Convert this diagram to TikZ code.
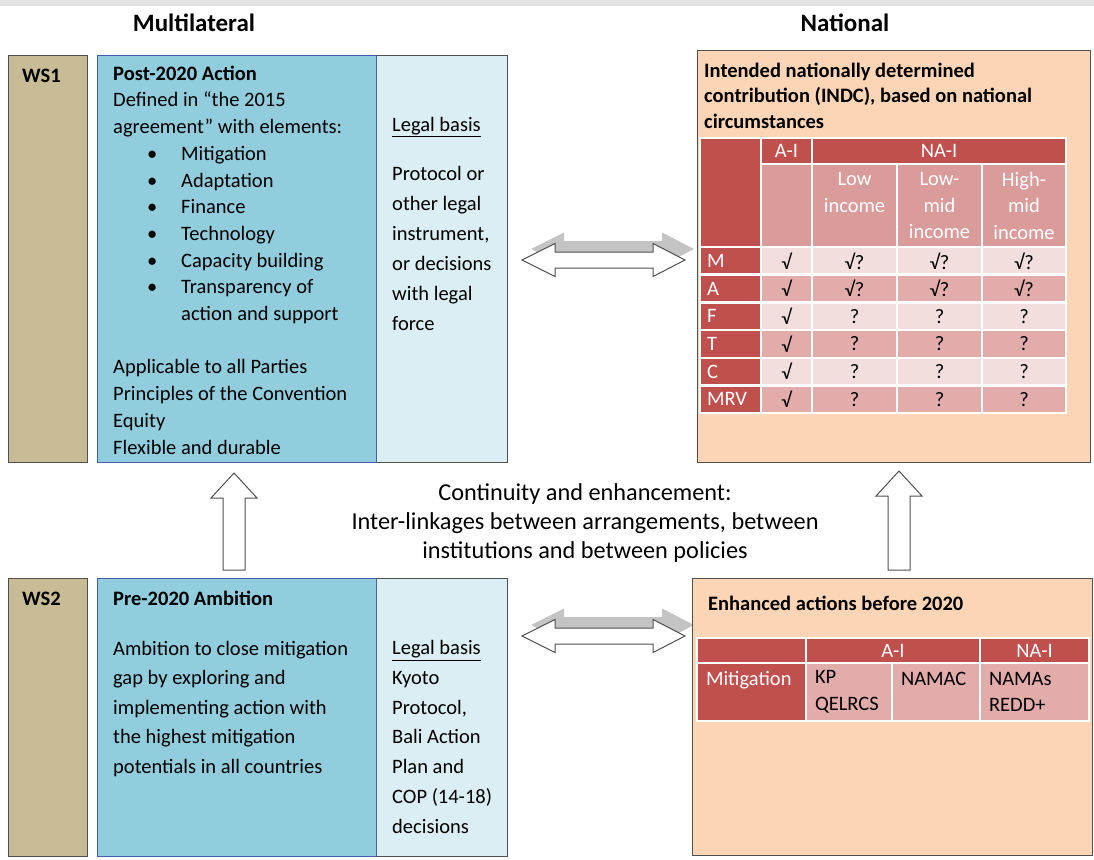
\documentclass[tikz,border=0pt]{standalone}
\usepackage{fontspec}
\setmainfont{Carlito}
\usetikzlibrary{positioning}

\definecolor{wsfill}{RGB}{199,188,150}
\definecolor{bluefill}{RGB}{146,205,221}
\definecolor{blueline}{RGB}{68,96,172}
\definecolor{legalfill}{RGB}{219,238,243}
\definecolor{peach}{RGB}{251,213,181}
\definecolor{boxline}{RGB}{80,80,80}
\definecolor{dred}{RGB}{192,80,77}
\definecolor{subpink}{RGB}{218,156,154}
\definecolor{rowdark}{RGB}{226,172,171}
\definecolor{rowlight}{RGB}{242,222,221}
\definecolor{shadowgray}{RGB}{196,196,196}

\newcommand{\blt}{\makebox[68pt][l]{\hspace*{34pt}\textbullet}}
\newcommand{\dblarrow}{(522,0) -- (555,-16.5) -- (555,-8) -- (653,-8) -- (653,-16.5) -- (685,0) -- (653,16.5) -- (653,8) -- (555,8) -- (555,16.5) -- cycle}

\begin{document}
\begin{tikzpicture}[x=1pt,y=-1pt,
  box/.style={draw=boxline, line width=1.2pt, anchor=north west, inner sep=0pt},
  % multi-line texts are placed by the baseline of their last line
  txt/.style={anchor=base west, inner sep=0pt, align=left, font=\fontsize{20.5}{26.7}\selectfont},
  boldtxt/.style={txt, font=\fontsize{20.5}{25.5}\selectfont\bfseries},
  colhead/.style={anchor=base, inner sep=0pt, font=\fontsize{25}{30}\selectfont\bfseries},
  cell/.style={draw=white, line width=2.5pt, inner sep=0pt, align=center, font=\fontsize{20.5}{26.5}\selectfont},
  hcell/.style={cell, fill=dred, text=white, minimum height=26pt},
  subcell/.style={cell, fill=subpink, text=white, minimum height=83pt},
  rowcell/.style={cell, minimum height=27.7pt},
  lab/.style={rowcell, fill=dred, text=white, align=left, text width=47pt, inner xsep=7pt},
  blockarrow/.style={draw=boxline, fill=white, line width=1pt, line join=miter}
  ]
  \useasboundingbox (0,0) rectangle (1094,859);
  \fill[gray!22] (0,0) rectangle (1094,6);

  % column headings
  \node[colhead] (multi) at (194,32) {Multilateral};
  \node[colhead] (natl) at (845,32) {National};

  % WS1
  \node[box, fill=wsfill, minimum width=79pt, minimum height=407pt] (ws1) at (8,55) {};
  \node[box, fill=legalfill, minimum width=131pt, minimum height=407pt] (legal1) at (376,55) {};
  \node[box, fill=bluefill, draw=blueline, minimum width=279pt, minimum height=407pt] (post) at (97,55) {};
  \node[boldtxt] (ws1lbl) at (22,82) {WS1};
  \node[txt] (posttxt) at (113,454) {\textbf{Post-2020 Action}\\
    Defined in “the 2015\\
    agreement” with elements:\\
    \blt Mitigation\\
    \blt Adaptation\\
    \blt Finance\\
    \blt Technology\\
    \blt Capacity building\\
    \blt Transparency of\\
    \hspace*{68pt}action and support\\[26.7pt]
    Applicable to all Parties\\
    Principles of the Convention\\
    Equity\\
    Flexible and durable};
  \node[txt] (legal1hd) at (392,131) {\underline{Legal basis}};
  \node[txt, font=\fontsize{20.5}{30}\selectfont] (legal1txt) at (392,330)
    {Protocol or\\other legal\\instrument,\\or decisions\\with legal\\force};

  % INDC
  \node[box, fill=peach, minimum width=393pt, minimum height=412pt] (indc) at (697,50) {};
  \node[boldtxt] (indctxt) at (704,128)
    {Intended nationally determined\\contribution (INDC), based on national\\circumstances};
  \node[cell, fill=dred, minimum width=61pt, minimum height=109pt] (corner) at (730.5,192.5) {};
  \node[hcell, minimum width=51pt] (hai) at (786.5,151) {A-I};
  \node[hcell, minimum width=254pt] (hnai) at (939,151) {NA-I};
  \node[subcell, minimum width=51pt] (sai) at (786.5,205.5) {};
  \node[subcell, minimum width=85pt] (slow) at (854.5,205.5) {Low\\income\\\mbox{}};
  \node[subcell, minimum width=85pt] (slowmid) at (939.5,205.5) {Low-\\mid\\income};
  \node[subcell, minimum width=84pt] (shighmid) at (1024,205.5) {High-\\mid\\income};
  \foreach \rw/\yy/\tone/\ai/\na in {M/260.85/rowlight/√/√?, A/288.55/rowdark/√/√?,
      F/316.25/rowlight/√/?, T/343.95/rowdark/√/?, C/371.65/rowlight/√/?, MRV/399.35/rowdark/√/?} {
    \node[lab] (\rw-lab) at (730.5,\yy) {\rw};
    \node[rowcell, fill=\tone, minimum width=51pt] (\rw-ai) at (786.5,\yy) {\ai};
    \node[rowcell, fill=\tone, minimum width=85pt] (\rw-low) at (854.5,\yy) {\na};
    \node[rowcell, fill=\tone, minimum width=85pt] (\rw-lowmid) at (939.5,\yy) {\na};
    \node[rowcell, fill=\tone, minimum width=84pt] (\rw-highmid) at (1024,\yy) {\na};
  }

  % links between the rows
  \draw[blockarrow] (223,570) -- (223,498) -- (211,498) -- (234,473) -- (257,498) -- (245,498) -- (245,570) -- cycle;
  \draw[blockarrow] (888,570) -- (888,496) -- (876,496) -- (899,471) -- (922,496) -- (910,496) -- (910,570) -- cycle;
  \fill[shadowgray, shift={(9,249)}] \dblarrow;
  \draw[blockarrow, shift={(0,260)}] \dblarrow;
  \fill[shadowgray, shift={(9,625)}] \dblarrow;
  \draw[blockarrow, shift={(0,636)}] \dblarrow;
  \node[anchor=base, align=center, inner sep=0pt, font=\fontsize{24.3}{29}\selectfont] (link) at (585,558)
    {Continuity and enhancement:\\Inter-linkages between arrangements, between\\institutions and between policies};

  % WS2
  \node[box, fill=wsfill, minimum width=79pt, minimum height=278pt] (ws2) at (8,578) {};
  \node[box, fill=legalfill, minimum width=131pt, minimum height=278pt] (legal2) at (376,578) {};
  \node[box, fill=bluefill, draw=blueline, minimum width=279pt, minimum height=278pt] (pre) at (97,578) {};
  \node[boldtxt] (ws2lbl) at (22,605) {WS2};
  \node[boldtxt] (pretitle) at (113,605) {Pre-2020 Ambition};
  \node[txt, font=\fontsize{20.5}{29.5}\selectfont] (pretxt) at (113,773)
    {Ambition to close mitigation\\gap by exploring and\\implementing action with\\the highest mitigation\\potentials in all countries};
  \node[txt, font=\fontsize{20.5}{29.7}\selectfont] (legal2txt) at (392,833)
    {\underline{Legal basis}\\Kyoto\\Protocol,\\Bali Action\\Plan and\\COP (14-18)\\decisions};

  % enhanced actions
  \node[box, fill=peach, minimum width=400pt, minimum height=277pt] (enh) at (692,578) {};
  \node[boldtxt] (enhtxt) at (708,610) {Enhanced actions before 2020};
  \node[hcell, minimum width=109pt, minimum height=25pt] (bcorner) at (751.5,650.5) {};
  \node[hcell, minimum width=174pt, minimum height=25pt] (bai) at (893,650.5) {A-I};
  \node[hcell, minimum width=109pt, minimum height=25pt] (bnai) at (1034.5,650.5) {NA-I};
  \node[cell, fill=dred, text=white, align=left, text width=91pt, inner xsep=9pt, minimum height=58pt] (bmit) at (751.5,692) {Mitigation\\\mbox{}};
  \node[cell, fill=rowdark, align=left, text width=68pt, inner xsep=9pt, minimum height=58pt] (bkp) at (849,692) {KP\\QELRCS};
  \node[cell, fill=rowdark, align=left, text width=70pt, inner xsep=9pt, minimum height=58pt] (bnamac) at (936,692) {NAMAC\\\mbox{}};
  \node[cell, fill=rowdark, align=left, text width=91pt, inner xsep=9pt, minimum height=58pt] (bnamas) at (1034.5,692) {NAMAs\\REDD+};
\end{tikzpicture}
\end{document}
